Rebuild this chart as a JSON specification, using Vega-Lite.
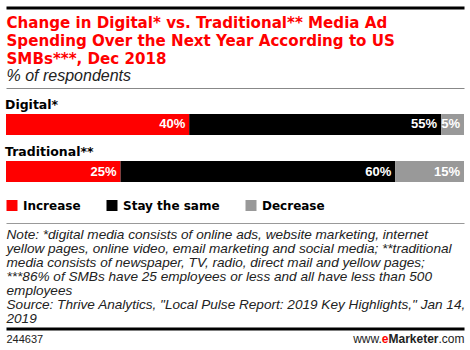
{
  "$schema": "https://vega.github.io/schema/vega-lite/v6.json",
  "width": 458,
  "height": 135,
  "autosize": {"type": "none"},
  "padding": {"left": 6, "top": 88, "right": 6, "bottom": 127},
  "background": "white",
  "config": {"view": {"stroke": null}},
  "layer": [
    {
      "data": {"values": [
        {"category": "Digital*", "response": "Increase", "value": 0.40, "order": 1},
        {"category": "Digital*", "response": "Stay the same", "value": 0.55, "order": 2},
        {"category": "Digital*", "response": "Decrease", "value": 0.05, "order": 3},
        {"category": "Traditional**", "response": "Increase", "value": 0.25, "order": 1},
        {"category": "Traditional**", "response": "Stay the same", "value": 0.60, "order": 2},
        {"category": "Traditional**", "response": "Decrease", "value": 0.15, "order": 3}
      ]},
      "transform": [
        {"stack": "value", "groupby": ["category"], "sort": [{"field": "order", "order": "ascending"}], "as": ["x0", "x1"]}
      ],
      "encoding": {
        "y": {"field": "category", "type": "nominal", "axis": null,
          "scale": {"domain": ["Digital*", "Traditional**"], "paddingInner": 0.5532, "paddingOuter": 0.712, "align": 0.388}}
      },
      "layer": [
        {
          "mark": {"type": "bar"},
          "encoding": {
            "x": {"field": "x0", "type": "quantitative", "scale": {"domain": [0, 1], "nice": false, "zero": true},
              "axis": {"orient": "bottom", "domain": true, "domainColor": "#999999", "domainWidth": 1, "ticks": false, "tickSize": 0, "labels": true, "values": [0], "labelExpr": "''", "grid": false,
                "title": ["Note: *digital media consists of online ads, website marketing, internet",
                  "yellow pages, online video, email marketing and social media; **traditional",
                  "media consists of newspaper, TV, radio, direct mail and yellow pages;",
                  "***86% of SMBs have 25 employees or less and all have less than 500",
                  "employees",
                  "Source: Thrive Analytics, \"Local Pulse Report: 2019 Key Highlights,\" Jan 14,",
                  "2019"],
                "titleFont": "Liberation Sans", "titleFontStyle": "italic", "titleFontWeight": "normal", "titleFontSize": 13.6,
                "titleColor": "#222222", "titleLineHeight": 14, "titleAlign": "left", "titleAnchor": "start",
                "titleBaseline": "alphabetic", "titleX": 0, "titleY": 15}},
            "x2": {"field": "x1"},
            "color": {"field": "response", "type": "nominal",
              "scale": {"domain": ["Increase", "Stay the same", "Decrease"], "range": ["#ff0000", "#000000", "#999999"]},
              "legend": {"orient": "none", "legendX": 0, "legendY": 111.5, "direction": "horizontal", "title": null,
                "symbolType": "square", "symbolSize": 121, "symbolStrokeWidth": 0, "symbolOpacity": 1,
                "labelFont": "DejaVu Sans", "labelFontWeight": "bold", "labelFontSize": 12, "labelColor": "#000000",
                "labelOffset": 5, "columnPadding": 25, "padding": 0}},
            "order": {"field": "order", "type": "quantitative"}
          }
        },
        {
          "mark": {"type": "text", "align": "right", "baseline": "middle", "dx": -4, "color": "white",
            "font": "Liberation Sans", "fontWeight": "bold", "fontSize": 13},
          "encoding": {
            "x": {"field": "x1", "type": "quantitative"},
            "text": {"field": "value", "type": "quantitative", "format": ".0%"}
          }
        },
        {
          "transform": [{"filter": "datum.order == 1"}],
          "mark": {"type": "text", "align": "left", "baseline": "alphabetic", "dy": -15.5, "dx": -1, "color": "black",
            "font": "DejaVu Sans", "fontWeight": "bold", "fontSize": 12.5},
          "encoding": {
            "x": {"datum": 0, "type": "quantitative"},
            "text": {"field": "category", "type": "nominal"}
          }
        }
      ]
    },
    {
      "data": {"values": [{}]},
      "mark": {"type": "point", "opacity": 0},
      "encoding": {
        "x": {"datum": 0, "type": "quantitative", "scale": {"domain": [0, 1], "nice": false, "zero": false},
          "axis": {"orient": "top", "offset": 0, "domain": true, "domainColor": "#888888", "domainWidth": 1, "ticks": false, "tickSize": 0, "labels": true, "values": [0], "labelExpr": "''", "grid": false,
            "title": "% of respondents", "titleFont": "Liberation Sans", "titleFontStyle": "italic", "titleFontWeight": "normal",
            "titleFontSize": 16, "titleColor": "#222222", "titleAlign": "left", "titleAnchor": "start", "titleBaseline": "alphabetic",
            "titleX": 0, "titleY": -8}}
      }
    },
    {
      "data": {"values": [{}]},
      "mark": {"type": "point", "opacity": 0},
      "encoding": {
        "x": {"datum": 0, "type": "quantitative", "scale": {"domain": [0, 1], "nice": false, "zero": false},
          "axis": {"orient": "top", "offset": 80.5, "domain": true, "domainColor": "#000000", "domainWidth": 3, "ticks": false, "tickSize": 0, "labels": true, "values": [0], "labelExpr": "''", "grid": false,
            "title": ["Change in Digital* vs. Traditional** Media Ad", "Spending Over the Next Year According to US", "SMBs***, Dec 2018"],
            "titleFont": "DejaVu Sans", "titleFontWeight": "bold", "titleFontSize": 15.1, "titleColor": "#ff0000", "titleLineHeight": 18,
            "titleAlign": "left", "titleAnchor": "start", "titleBaseline": "alphabetic", "titleX": 0, "titleY": 19.8}}
      }
    },
    {
      "data": {"values": [{}]},
      "mark": {"type": "point", "opacity": 0},
      "encoding": {
        "x": {"datum": 0, "type": "quantitative", "scale": {"domain": [0, 458], "nice": false, "zero": false},
          "axis": {"orient": "bottom", "offset": 105.5, "domainColor": "#000000", "domainWidth": 3, "ticks": false, "tickSize": 0, "grid": false,
            "title": null, "values": [0, 375.3, 382, 432, 458],
            "labelExpr": "datum.value == 0 ? '244637' : datum.value < 380 ? 'www.' : datum.value < 400 ? 'e' : datum.value < 450 ? 'Marketer' : '.com'",
            "labelFlush": false, "labelOverlap": false, "labelBound": false,
            "labelAlign": {"condition": {"test": "datum.value == 0", "value": "left"}, "value": "right"},
            "labelFontWeight": {"condition": {"test": "datum.value == 382 || datum.value == 432", "value": "bold"}, "value": "normal"},
            "labelColor": {"condition": {"test": "datum.value == 382", "value": "#ff0000"}, "value": "#222222"},
            "labelFontSize": {"condition": {"test": "datum.value == 0", "value": 11}, "value": 12},
            "labelFont": "Liberation Sans", "labelPadding": 13.5, "labelBaseline": "alphabetic"}}
      }
    }
  ],
  "resolve": {"scale": {"x": "independent"}, "axis": {"x": "independent"}}
}
